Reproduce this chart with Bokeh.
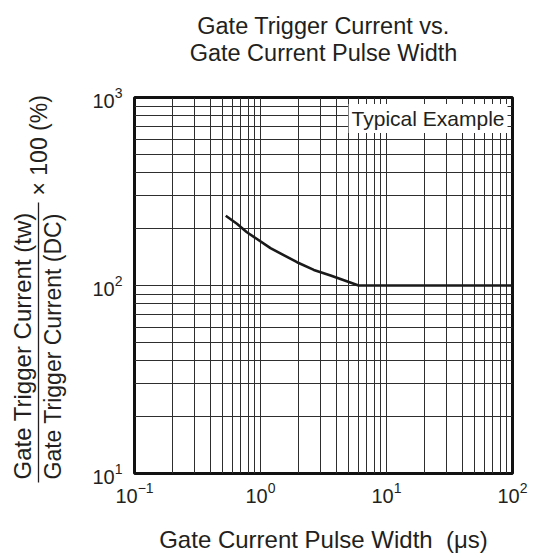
import math
from bokeh.plotting import figure
from bokeh.layouts import row, column
from bokeh.models import Label, FixedTicker, Range1d
from bokeh.core.properties import value
from bokeh.embed import file_html
from bokeh.resources import INLINE

# ---- data ----
pulse_width_us = [0.53, 0.65, 0.78, 1.2, 1.95, 2.65, 3.6, 4.9, 6.0, 100]
trigger_ratio_pct = [235, 213, 192, 158, 133, 121, 113, 105, 100, 100]

x_major = [0.1, 1, 10, 100]
y_major = [10, 100, 1000]
x_minor = [m * d for d in [0.1, 1, 10] for m in range(2, 10)]
y_minor = [m * d for d in [10, 100] for m in range(2, 10)]

title_lines = ["Gate Trigger Current vs.", "Gate Current Pulse Width"]
xlabel_text = "Gate Current Pulse Width\u00a0 (\u03bcs)"
ylabel_num = "Gate Trigger Current (tw)"
ylabel_den = "Gate Trigger Current (DC)"
ylabel_tail = "\u00d7 100 (%)"
legend_text = "Typical Example"

FONT = "Liberation Sans"
TXT = "#231f20"

# ---- layout geometry (page pixels) ----
H = 556
LABW = 70
TOPH = 82
FL, FR, FT, FB = 134, 512, 97, 473
RB = 27
PW = (FL - LABW) + (FR - FL) + RB
X0, X1, Y0, Y1 = 0.1, 100, 10, 1000


def xd(px):
    return 10 ** (math.log10(X0) + (px - FL) / (FR - FL) * math.log10(X1 / X0))


def yd(py):
    return 10 ** (math.log10(Y1) - (py - FT) / (FB - FT) * math.log10(Y1 / Y0))


def blank(w, h, x0, y0):
    f = figure(
        title=None, frame_width=w, frame_height=h,
        x_range=Range1d(x0, x0 + w), y_range=Range1d(y0 + h, y0),
        x_axis_location=None, y_axis_location=None,
        min_border=0, output_backend="svg", toolbar_location=None,
    )
    f.frame_align = False
    f.grid.visible = False
    f.outline_line_color = None
    f.background_fill_color = "white"
    f.border_fill_color = "white"
    return f


# ---- main chart ----
p = figure(
    title=None,
    x_axis_type="log", y_axis_type="log",
    x_range=(X0, X1), y_range=(Y0, Y1),
    frame_width=FR - FL, frame_height=FB - FT,
    min_border_left=FL - LABW, min_border_right=RB,
    min_border_top=FT - TOPH, min_border_bottom=H - FB,
    output_backend="svg", toolbar_location=None,
)
p.frame_align = False
p.background_fill_color = "white"
p.border_fill_color = "white"
p.outline_line_color = "#111111"
p.outline_line_width = 3

for ax, ticks, minor in ((p.xaxis[0], x_major, x_minor), (p.yaxis[0], y_major, y_minor)):
    ax.ticker = FixedTicker(ticks=ticks, minor_ticks=minor)
    ax.axis_line_color = None
    ax.major_tick_line_color = None
    ax.minor_tick_line_color = None
    ax.major_label_text_font = FONT
    ax.major_label_text_font_size = "20px"
    ax.major_label_text_color = TXT
p.xaxis.major_label_standoff = 2
p.yaxis.major_label_standoff = 6

p.xaxis.axis_label = xlabel_text
p.xaxis.axis_label_text_font = FONT
p.xaxis.axis_label_text_font_size = "24px"
p.xaxis.axis_label_text_font_style = "normal"
p.xaxis.axis_label_text_color = TXT
p.xaxis.axis_label_standoff = 20

for g in (p.xgrid[0], p.ygrid[0]):
    g.grid_line_color = "#2e2e2e"
    g.grid_line_width = 1
    g.grid_line_alpha = 1
    g.minor_grid_line_color = "#2e2e2e"
    g.minor_grid_line_width = 1

p.line(pulse_width_us, trigger_ratio_pct, line_color="#1a1a1a", line_width=2.6)

p.add_layout(Label(
    x=xd(507), y=yd(118), text=legend_text, text_align="right",
    text_baseline="alphabetic", text_font=FONT, text_font_size="21px",
    text_color=TXT, background_fill_color="white", padding=3,
))

# ---- title strip (pixel coordinates) ----
top = blank(PW, TOPH, LABW, 0)
top.text(x=[(FL + FR) / 2] * 2, y=[25, 52], text=title_lines,
         text_align="center", text_baseline="alphabetic",
         text_font=value(FONT), text_font_size=value("23.5px"), text_color=TXT)

# ---- y-axis label strip (fraction form), pixel coordinates ----
lab = blank(LABW, H, 0, 0)
lab.text(x=[22], y=[479], text=[ylabel_num], angle=math.pi / 2,
         text_align="left", text_baseline="alphabetic",
         text_font=value(FONT), text_font_size=value("24px"), text_color=TXT)
lab.text(x=[52], y=[479], text=[ylabel_den], angle=math.pi / 2,
         text_align="left", text_baseline="alphabetic",
         text_font=value(FONT), text_font_size=value("23px"), text_color=TXT)
lab.segment(x0=[38], y0=[482], x1=[38], y1=[202], line_color=TXT, line_width=1.3)
lab.text(x=[38], y=[195], text=[ylabel_tail], angle=math.pi / 2,
         text_align="left", text_baseline="alphabetic",
         text_font=value(FONT), text_font_size=value("23px"), text_color=TXT)

layout = row(lab, column(top, p, spacing=0), spacing=0)
open("out.html", "w").write(file_html(layout, INLINE))
